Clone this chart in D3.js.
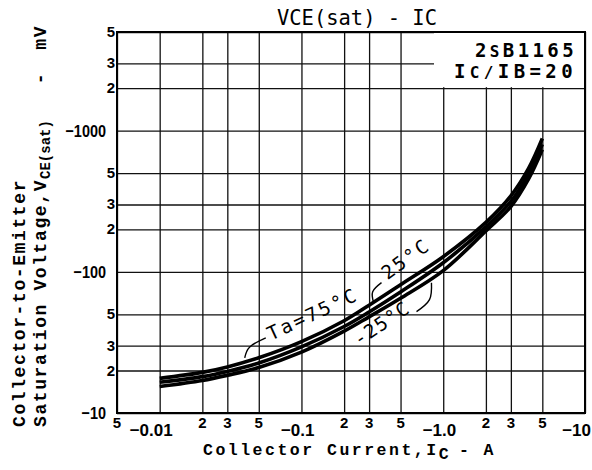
<!DOCTYPE html>
<html>
<head>
<meta charset="utf-8">
<script src="https://cdn.jsdelivr.net/npm/d3@7"></script>
<style>
  body { margin: 0; background: #fff; }
  svg { display: block; }
</style>
</head>
<body>
<div id="chart"></div>
<script>
// collector current, A (magnitude)
var currents = [0.01, 0.02, 0.03, 0.05, 0.1, 0.2, 0.3, 0.5, 1, 2, 3, 4, 5];
// VCE(sat), mV (magnitude) per ambient temperature
var vce75 = [17.6, 19.4, 21.2, 24.6, 32, 45, 58, 81, 128, 224, 345, 540, 880];
var vce25 = [16.5, 18.1, 19.7, 22.6, 29.4, 41, 52, 72, 116, 208, 315, 495, 800];
var vceM25 = [15.4, 17.0, 18.5, 21.0, 27.0, 38, 48, 65, 102, 195, 290, 455, 735];

var xMinorTicks = [0.005, 0.02, 0.03, 0.05, 0.2, 0.3, 0.5, 2, 3, 5];
var xMinorLabels = ["5", "2", "3", "5", "2", "3", "5", "2", "3", "5"];
var xMajorTicks = [0.01, 0.1, 1, 10];
var xMajorLabels = ["\u22120.01", "\u22120.1", "\u22121.0", "\u221210"];
var yMinorTicks = [20, 30, 50, 200, 300, 500, 2000, 3000, 5000];
var yMinorLabels = ["2", "3", "5", "2", "3", "5", "2", "3", "5"];
var yMajorTicks = [10, 100, 1000];
var yMajorLabels = ["\u221210", "\u2212100", "\u22121000"];

function init() {
    var W = 592, H = 470;
    var m = {left: 117, top: 32, right: 7, bottom: 57};
    var w = W - m.left - m.right;
    var h = H - m.top - m.bottom;

    var svg = d3.select("#chart").append("svg")
        .attr("width", W).attr("height", H);
    svg.append("rect").attr("width", W).attr("height", H).attr("fill", "#fff");

    var x = d3.scaleLog().domain([0.005, 10]).range([0, w]);
    var y = d3.scaleLog().domain([10, 5000]).range([h, 0]);

    var g = svg.append("g").attr("transform", "translate(" + m.left + "," + m.top + ")");

    // grid
    g.append("g").attr("class", "grid")
        .attr("transform", "translate(0," + h + ")")
        .call(d3.axisBottom(x).tickValues(xMinorTicks.concat(xMajorTicks)).tickSize(-h).tickFormat(""));
    g.append("g").attr("class", "grid")
        .call(d3.axisLeft(y).tickValues(yMinorTicks.concat(yMajorTicks)).tickSize(-w).tickFormat(""));
    g.selectAll(".grid .domain").remove();
    g.selectAll(".grid line").attr("stroke", "#111").attr("stroke-width", 1.3);

    // white box behind part number
    g.append("rect")
        .attr("x", 317).attr("y", 1)
        .attr("width", w - 318).attr("height", y(2000) - 2)
        .attr("fill", "#fff");

    g.append("rect").attr("width", w).attr("height", h)
        .attr("fill", "none").attr("stroke", "#000").attr("stroke-width", 2);

    // curves
    var line = d3.line()
        .x(function(d) { return x(d[0]); })
        .y(function(d) { return y(d[1]); })
        .curve(d3.curveCatmullRom);
    [vce75, vce25, vceM25].forEach(function(s) {
        g.append("path")
            .datum(currents.map(function(c, i) { return [c, s[i]]; }))
            .attr("d", line)
            .attr("fill", "none")
            .attr("stroke", "#000")
            .attr("stroke-width", 3.6);
    });

    // temperature labels + leaders
    var notes = [
        {t: "Ta=75\u00b0C", at: [0.061, 32.5], rot: -25, ls: 2.6},
        {t: "25\u00b0C", at: [0.405, 87], rot: -36, ls: 2.2},
        {t: "-25\u00b0C", at: [0.255, 29.5], rot: -34, ls: 1.2}
    ];
    notes.forEach(function(n) {
        g.append("text")
            .attr("transform", "translate(" + x(n.at[0]) + "," + y(n.at[1]) + ") rotate(" + n.rot + ")")
            .attr("font-family", "DejaVu Sans Mono")
            .attr("font-size", 19)
            .attr("letter-spacing", n.ls)
            .text(n.t);
    });
    var leaders = [
        [[0.0398, 24.6], [0.0432, 29.4], [0.056, 34.1]],
        [[0.367, 83.8], [0.318, 72.3], [0.323, 60.4]],
        [[0.648, 52.2], [0.80, 63.5], [0.826, 83.8]]
    ];
    var lead = d3.line()
        .x(function(d) { return x(d[0]); })
        .y(function(d) { return y(d[1]); })
        .curve(d3.curveNatural);
    leaders.forEach(function(p) {
        g.append("path").attr("d", lead(p))
            .attr("fill", "none").attr("stroke", "#000").attr("stroke-width", 1.4);
    });

    // tick labels
    function style(sel, size) {
        sel.attr("font-family", "Liberation Sans").attr("font-weight", "bold")
           .attr("font-size", size).attr("fill", "#000");
    }
    g.selectAll(".xmin").data(xMinorTicks).enter().append("text")
        .attr("x", function(d) { return x(d); })
        .attr("y", h + 15)
        .attr("text-anchor", "middle")
        .text(function(d, i) { return xMinorLabels[i]; })
        .call(style, 15);
    g.selectAll(".xmaj").data(xMajorTicks).enter().append("text")
        .attr("x", function(d) { return Math.min(x(d) + 13, w + m.right - 1); })
        .attr("y", h + 23)
        .attr("text-anchor", "end")
        .text(function(d, i) { return xMajorLabels[i]; })
        .call(style, 17);
    g.selectAll(".ymin").data(yMinorTicks).enter().append("text")
        .attr("x", -2)
        .attr("y", function(d) { return y(d) + 5; })
        .attr("text-anchor", "end")
        .text(function(d, i) { return yMinorLabels[i]; })
        .call(style, 15);
    g.selectAll(".ymaj").data(yMajorTicks).enter().append("text")
        .attr("transform", function(d) { return "translate(-11," + (y(d) + 6) + ") scale(0.85,1)"; })
        .attr("text-anchor", "end")
        .text(function(d, i) { return yMajorLabels[i]; })
        .call(style, 17);

    // title
    svg.append("text")
        .attr("x", 277).attr("y", 25)
        .attr("font-family", "DejaVu Sans Mono")
        .attr("font-size", 21)
        .attr("textLength", 160).attr("lengthAdjust", "spacingAndGlyphs")
        .text("VCE(sat) - IC");

    // part number box
    var pn = svg.append("text")
        .attr("x", 577).attr("y", 57).attr("text-anchor", "end")
        .attr("font-family", "DejaVu Sans Mono").attr("font-weight", "bold")
        .attr("font-size", 19).attr("letter-spacing", 3.4);
    pn.append("tspan").text("2");
    pn.append("tspan").attr("font-size", 16).text("S");
    pn.append("tspan").text("B1165");
    var ic = svg.append("text")
        .attr("x", 577).attr("y", 78).attr("text-anchor", "end")
        .attr("font-family", "DejaVu Sans Mono").attr("font-weight", "bold")
        .attr("font-size", 19).attr("letter-spacing", 4.4);
    ic.append("tspan").text("I");
    ic.append("tspan").attr("font-size", 16).text("C/");
    ic.append("tspan").text("I");
    ic.append("tspan").text("B=20");

    // axis titles
    var mono = "Liberation Mono";
    var xt = svg.append("text")
        .attr("x", 203).attr("y", 455)
        .attr("font-family", mono).attr("font-weight", "bold")
        .attr("font-size", 16.5).attr("letter-spacing", 2.5);
    xt.append("tspan").text("Collector Current,I");
    xt.append("tspan").attr("dy", 4).text("C");
    xt.append("tspan").attr("dy", -4).attr("dx", 8).text("-");
    xt.append("tspan").attr("dx", 12).text("A");

    svg.append("text")
        .attr("transform", "translate(25,427) rotate(-90)")
        .attr("font-family", mono).attr("font-weight", "bold")
        .attr("font-size", 18).attr("letter-spacing", 1.6)
        .text("Collector-to-Emitter");
    var yt = svg.append("text")
        .attr("transform", "translate(46,427) rotate(-90)")
        .attr("font-family", mono).attr("font-weight", "bold")
        .attr("font-size", 18).attr("letter-spacing", 1.6);
    yt.append("tspan").text("Saturation Voltage,V");
    yt.append("tspan").attr("dy", 4).attr("font-size", 14).attr("letter-spacing", 0).text("CE(sat)");
    yt.append("tspan").attr("dy", -4).attr("dx", 36).text("-");
    yt.append("tspan").attr("dx", 22).text("mV");
}
window.onload = init;
</script>
</body>
</html>
